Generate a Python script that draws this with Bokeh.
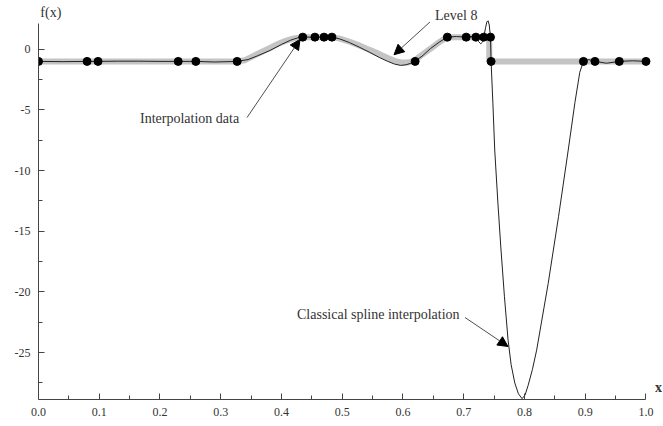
from bokeh.plotting import figure
from bokeh.models import FixedTicker, Label, Arrow, NormalHead, Range1d
from bokeh.embed import file_html
from bokeh.resources import INLINE

# Interpolation data (black dots)
data_x = [0.000, 0.080, 0.098, 0.230, 0.259, 0.327, 0.435, 0.455, 0.470, 0.483,
          0.620, 0.673, 0.704, 0.720, 0.733, 0.744, 0.745, 0.897, 0.916, 0.956, 1.000]
data_y = [-1, -1, -1, -1, -1, -1, 1, 1, 1, 1,
          -1, 1, 1, 1, 1, 1, -1, -1, -1, -1, -1]

# Classical spline interpolation (thin black curve)
spline_x = [0.000, 0.040, 0.080, 0.098, 0.130, 0.165, 0.200, 0.230, 0.259, 0.290,
            0.327, 0.345, 0.360, 0.381, 0.400, 0.415, 0.426, 0.435, 0.455, 0.470,
            0.483, 0.496, 0.512, 0.529, 0.545, 0.562, 0.575, 0.586, 0.596, 0.605,
            0.613, 0.620, 0.633, 0.645, 0.660, 0.673, 0.688, 0.704, 0.712, 0.720,
            0.724, 0.728, 0.731, 0.733, 0.736, 0.738, 0.740, 0.742, 0.744, 0.745,
            0.748, 0.751, 0.756, 0.761, 0.767, 0.773, 0.778, 0.784, 0.790, 0.796,
            0.801, 0.806, 0.813, 0.820, 0.839, 0.856, 0.872, 0.883, 0.891, 0.897,
            0.906, 0.916, 0.935, 0.956, 0.978, 1.000]
spline_y = [-1.00, -1.02, -1.00, -1.00, -0.98, -0.98, -1.00, -1.00, -1.00, -1.05,
            -1.00, -0.85, -0.55, -0.10, 0.40, 0.75, 0.93, 1.00, 1.00, 1.00,
            1.00, 0.85, 0.55, 0.15, -0.25, -0.70, -1.00, -1.22, -1.33, -1.28,
            -1.15, -1.00, -0.50, 0.05, 0.60, 1.00, 1.05, 1.00, 1.05, 1.00,
            0.65, 0.45, 0.60, 1.00, 1.80, 2.25, 2.35, 2.00, 1.00, -1.00,
            -4.5, -8.3, -12.5, -16.3, -20.4, -24.0, -26.0, -27.5, -28.4, -28.8,
            -28.5, -27.7, -26.4, -24.8, -19.3, -13.8, -8.3, -4.4, -1.9, -1.00,
            -0.85, -1.00, -1.15, -1.00, -0.95, -1.00]

# Level 8 approximation (thick grey curve)
level_x = [0.000, 0.327, 0.340, 0.354, 0.368, 0.381, 0.395, 0.408, 0.420, 0.435,
           0.483, 0.496, 0.512, 0.529, 0.545, 0.562, 0.575, 0.586, 0.598, 0.608,
           0.618, 0.630, 0.645, 0.660, 0.673, 0.742, 0.742, 1.000]
level_y = [-1.0, -1.0, -0.9, -0.55, -0.2, 0.1, 0.45, 0.72, 0.90, 1.0,
           1.0, 0.88, 0.62, 0.30, -0.05, -0.42, -0.72, -0.95, -1.10, -1.10,
           -0.95, -0.5, 0.04, 0.6, 1.0, 1.0, -1.0, -1.0]

x_ticks = [0.0, 0.1, 0.2, 0.3, 0.4, 0.5, 0.6, 0.7, 0.8, 0.9, 1.0]
x_tick_labels = ["0.0", "0.1", "0.2", "0.3", "0.4", "0.5", "0.6", "0.7", "0.8", "0.9", "1.0"]
x_minor = [0.05, 0.15, 0.25, 0.35, 0.45, 0.55, 0.65, 0.75, 0.85, 0.95]
y_ticks = [0, -5, -10, -15, -20, -25]
y_tick_labels = ["0", "-5", "-10", "-15", "-20", "-25"]
y_minor = [-2.5, -7.5, -12.5, -17.5, -22.5, -27.5]

# axis extents and view window (frame covers annotation area, axes limited by bounds)
X_MIN, X_MAX = 0.0, 1.0
Y_MIN, Y_AXIS_TOP = -28.87, 2.13
VIEW_X = (0.0, 1.02881)
VIEW_Y = (Y_MIN, 4.02)
FONT = "Liberation Serif"
TXT = "#333333"

p = figure(width=663, height=426, output_backend="svg", toolbar_location=None,
           x_range=Range1d(*VIEW_X), y_range=Range1d(*VIEW_Y),
           min_border_left=38, min_border_right=0, min_border_top=0, min_border_bottom=27)
p.grid.visible = False
p.outline_line_color = None
p.background_fill_color = "white"
p.border_fill_color = "white"

p.xaxis.ticker = FixedTicker(ticks=x_ticks, minor_ticks=x_minor)
p.yaxis.ticker = FixedTicker(ticks=y_ticks, minor_ticks=y_minor)
p.xaxis.major_label_overrides = {t: s for t, s in zip(x_ticks, x_tick_labels)}
p.yaxis.major_label_overrides = {t: s for t, s in zip(y_ticks, y_tick_labels)}
p.xaxis.bounds = (X_MIN, X_MAX)
p.yaxis.bounds = (Y_MIN, Y_AXIS_TOP)
for ax in (p.xaxis, p.yaxis):
    ax.major_tick_in = 6
    ax.major_tick_out = 0
    ax.minor_tick_in = 4
    ax.minor_tick_out = 0
    ax.axis_line_color = "#444444"
    ax.major_tick_line_color = "#444444"
    ax.minor_tick_line_color = "#444444"
    ax.major_label_text_font = FONT
    ax.major_label_text_font_size = "12px"
    ax.major_label_text_color = TXT
    ax.major_label_standoff = 8

p.line(level_x, level_y, line_color="#c4c4c4", line_width=6)
p.line(spline_x, spline_y, line_color="#222222", line_width=1)
p.scatter(data_x, data_y, size=8, color="black")

def label(x, y, text, bold=False):
    p.add_layout(Label(x=x, y=y, text=text, text_font=FONT, text_font_size="14px",
                       text_color=TXT, text_baseline="middle", text_align="left",
                       text_font_style="bold" if bold else "normal"))

def arrow(x0, y0, x1, y1):
    p.add_layout(Arrow(x_start=x0, y_start=y0, x_end=x1, y_end=y1,
                       line_color="#222222", line_width=0.8,
                       end=NormalHead(size=10, fill_color="black", line_color="black")))

label(0.6527, 2.79, "Level 8")
arrow(0.6444, 2.25, 0.5852, -0.45)
label(0.1671, -5.70, "Interpolation data")
arrow(0.3432, -5.63, 0.4305, 0.81)
label(0.4255, -21.86, "Classical spline interpolation")
arrow(0.7021, -22.11, 0.7728, -24.50)
label(0.003, 3.03, "f(x)")
label(1.0148, -27.88, "x", bold=True)

open("out.html", "w").write(file_html(p, INLINE))
